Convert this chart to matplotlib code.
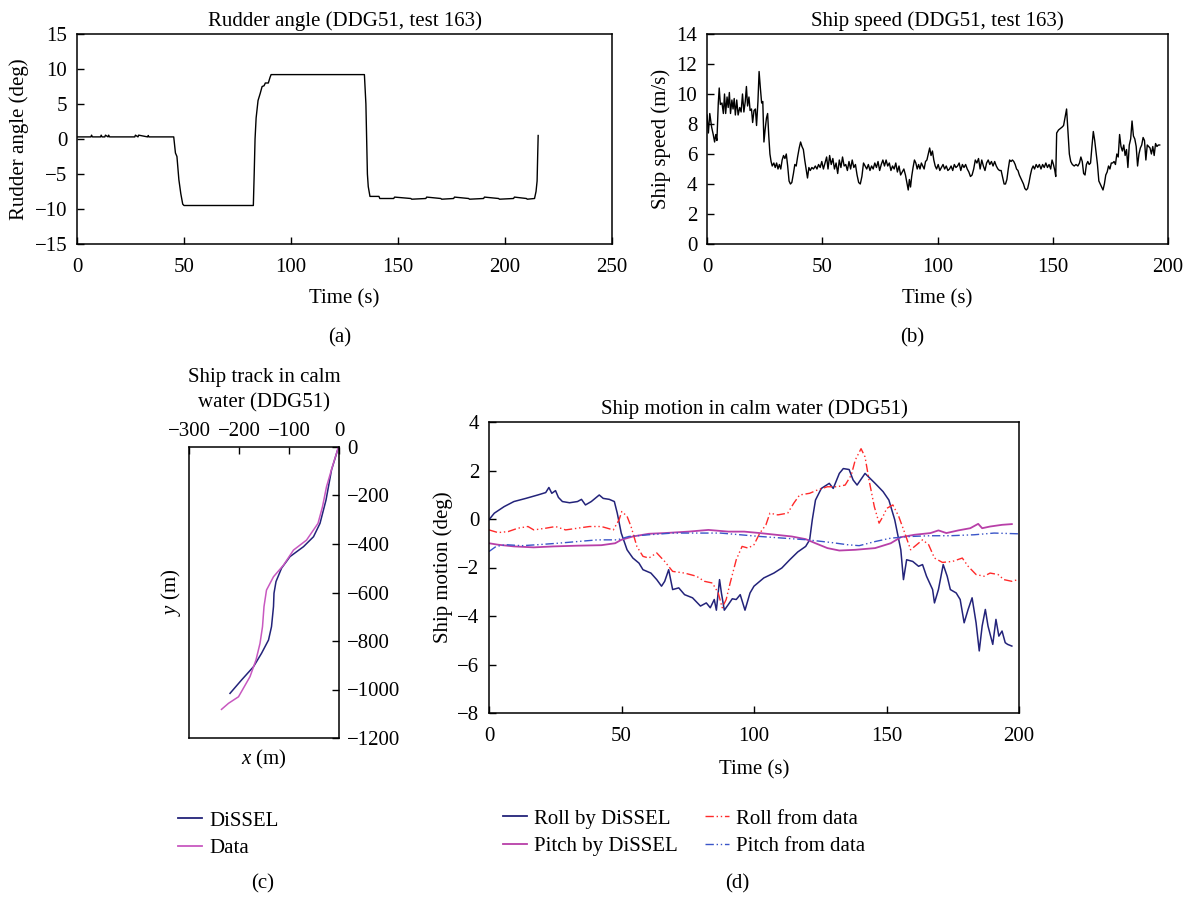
import matplotlib
matplotlib.use("Agg")
import matplotlib.pyplot as plt
from matplotlib.lines import Line2D

plt.rcParams['font.family'] = ['Liberation Serif', 'DejaVu Serif']
plt.rcParams['font.size'] = 15
plt.rcParams['mathtext.fontset'] = 'custom'
plt.rcParams['mathtext.it'] = 'Liberation Serif:italic'
plt.rcParams['mathtext.rm'] = 'Liberation Serif'

W, H = 1192, 898
FS = 15

# ---- (a) rudder angle ----
rudder_t = [0, 6.5, 6.8, 7.2, 11, 11.3, 11.7, 13, 13.3, 14.5, 14.8, 15.2, 27, 27.3, 28.5, 28.8,
            33, 33.3, 33.6, 45.2, 46, 46.7, 47.6, 48.5, 49.4, 50, 82.4, 82.8, 83.2, 83.7, 84.6,
            85.6, 86.5, 87.4, 88, 89.4, 90.2, 90.7, 134.3, 135, 135.7, 136.1, 136.9, 141.1,
            141.5, 148, 148.4, 156, 156.4, 163, 163.4, 170, 170.4, 176, 176.4, 183, 183.4, 190,
            190.4, 197, 197.4, 204, 204.4, 210, 210.4, 213.8, 214.5, 215.0, 215.3, 215.5]
rudder_deg = [0.3, 0.3, 0.55, 0.3, 0.3, 0.55, 0.3, 0.3, 0.55, 0.3, 0.55, 0.3, 0.3, 0.55, 0.3, 0.55,
              0.3, 0.5, 0.3, 0.3, -2.0, -2.5, -5.8, -7.8, -9.3, -9.5, -9.5, -5.0, 0.0, 3.0, 5.5,
              6.5, 7.5, 7.6, 8.0, 8.0, 8.8, 9.2, 9.2, 5.0, -5.0, -6.8, -8.2, -8.2,
              -8.5, -8.5, -8.3, -8.5, -8.6, -8.5, -8.3, -8.5, -8.6, -8.5, -8.3, -8.5, -8.6, -8.5,
              -8.3, -8.5, -8.6, -8.5, -8.3, -8.5, -8.6, -8.5, -7.5, -6.0, -2.0, 0.5]

# ---- (b) ship speed ----
speed_t = [0, 0.6, 1.2, 2, 2.7, 3.3, 3.8, 4.3, 4.9, 5.3, 5.8, 6.5, 7.1, 7.6, 8.1, 8.7, 9.2, 9.7,
           10.2, 10.8, 11.3, 11.8, 12.3, 12.9, 13.5, 14.2, 14.8, 15.4, 16.0, 16.6, 17.1, 17.6,
           18.2, 18.7, 19.3, 19.8, 20.4, 21.0, 21.5, 22.1, 22.6, 23.1, 23.7, 24.2, 24.7, 25.2,
           25.8, 26.3, 26.8, 27.3, 27.8, 28.3, 29.0, 29.6, 30.2, 30.8, 31.4, 32.0, 32.6, 33.2,
           33.8, 34.4, 35.0, 35.6, 36.2, 36.8, 37.5, 38.1, 38.7, 39.3, 40.0, 40.6, 41.2, 41.8,
           42.4, 43.0, 43.6, 44.2, 44.8, 45.5, 46.2, 47.0, 47.7, 48.4, 49.1, 49.8, 50.5, 51.2,
           51.9, 52.5, 53.2, 53.9, 54.6, 55.3, 56.0, 56.7, 57.4, 58.1, 58.8, 59.5, 60.2, 60.9,
           61.6, 62.3, 63.0, 63.7, 64.4, 65.1, 65.8, 66.5, 67.2, 67.9, 68.6, 69.3, 70.0, 70.7,
           71.4, 72.1, 72.8, 73.5, 74.2, 74.9, 75.6, 76.3, 77.0, 77.7, 78.4, 79.1, 79.8, 80.5,
           81.2, 81.9, 82.6, 83.3, 84.0, 84.7, 85.4, 86.1, 86.8, 87.3, 87.8, 88.3, 88.8, 89.4,
           90.0, 90.6, 91.2, 91.8, 92.4, 93.0, 93.6, 94.2, 94.8, 95.4, 96.0, 96.6, 97.2, 97.8,
           98.4, 99.0, 99.6, 100.3, 101.0, 101.7, 102.4, 103.1, 103.8, 104.5, 105.2, 105.9,
           106.6, 107.3, 108.0, 108.7, 109.4, 110.1, 110.8, 111.5, 112.2, 112.9, 113.6, 114.3,
           115.0, 115.7, 116.4, 117.1, 117.8, 118.5, 119.2, 119.9, 120.6, 121.3, 122.0, 122.7,
           123.4, 124.1, 124.8, 125.5, 126.2, 126.9, 127.6, 128.3, 128.9, 129.5, 130.1, 130.7,
           131.3, 131.9, 132.5, 133.1, 133.7, 134.3, 134.9, 135.5, 136.1, 136.7, 137.3, 137.9,
           138.5, 139.1, 139.7, 140.3, 140.9, 141.5, 142.1, 142.8, 143.5, 144.2, 144.9, 145.6,
           146.3, 147.0, 147.7, 148.4, 149.1, 149.7, 150.3, 150.9, 151.3, 151.7, 152.5, 153.3,
           154.1, 154.7, 155.4, 156.0, 156.6, 157.2, 157.8, 158.5, 159.3, 160.1, 160.9, 161.6,
           162.2, 162.8, 163.4, 164.0, 164.6, 165.2, 165.8, 166.4, 167.0, 167.6, 168.2, 168.8,
           169.4, 170.0, 170.6, 171.2, 171.8, 172.4, 173.0, 173.6, 174.2, 174.8, 175.4, 176.0,
           176.6, 177.2, 177.8, 178.4, 179.0, 179.6, 180.2, 180.8, 181.4, 182.0, 182.6, 183.2,
           183.8, 184.4, 185.0, 185.6, 186.2, 186.8, 187.4, 188.0, 188.6, 189.2, 189.8, 190.4,
           191.0, 191.6, 192.2, 192.8, 193.4, 194.0, 194.6, 195.2, 195.8, 196.4]
speed_ms = [8.6, 7.4, 8.7, 7.8, 7.3, 6.8, 7.3, 6.9, 9.4, 10.4, 9.3, 9.4, 8.7, 10.0, 8.7, 9.8, 9.1,
            10.1, 8.7, 9.6, 9.0, 9.7, 8.6, 9.6, 8.6, 9.1, 8.8, 10.0, 8.8, 9.5, 10.5, 9.2, 9.8, 8.9,
            9.0, 8.1, 8.9, 9.0, 7.9, 9.5, 11.5, 10.5, 9.4, 9.5, 6.8, 7.6, 8.4, 8.7, 7.2, 6.0, 5.5,
            5.2, 5.4, 5.1, 5.4, 5.0, 5.3, 5.0, 5.6, 5.9, 5.7, 6.0, 5.2, 4.2, 4.0, 4.1, 4.7, 5.3,
            5.2, 5.8, 6.4, 6.8, 6.5, 6.3, 5.6, 5.0, 4.4, 5.1, 4.9, 5.1, 5.0, 5.2, 5.0, 5.3, 5.1,
            5.5, 5.0, 5.4, 5.8, 5.0, 5.9, 5.3, 5.7, 5.0, 5.4, 4.7, 5.6, 5.1, 5.8, 5.2, 5.3, 4.9,
            5.5, 5.0, 5.6, 5.1, 5.3, 4.6, 4.1, 4.0, 4.5, 5.4, 5.2, 5.0, 5.3, 4.9, 5.2, 5.0, 5.4,
            5.1, 5.5, 4.9, 5.3, 5.6, 5.2, 5.6, 5.2, 5.4, 4.9, 5.2, 5.0, 5.4, 4.8, 5.2, 4.6, 4.8,
            5.0, 4.6, 4.0, 3.6, 4.3, 3.8, 4.5, 5.1, 5.6, 5.4, 5.0, 5.3, 5.0, 5.4, 5.2, 5.0, 5.5,
            5.6, 6.0, 6.4, 5.9, 6.2, 5.6, 5.2, 5.0, 5.3, 4.9, 5.1, 5.3, 5.0, 5.2, 4.9, 5.0, 5.2,
            4.9, 5.3, 5.1, 5.2, 5.4, 4.9, 5.3, 5.1, 5.3, 5.0, 4.8, 4.5, 4.6, 5.0, 5.6, 5.4, 5.7,
            5.0, 5.6, 5.2, 4.9, 5.4, 5.6, 5.3, 5.5, 5.2, 5.5, 5.2, 5.0, 4.9, 4.9, 4.4, 4.0, 4.0,
            4.3, 5.0, 5.6, 5.5, 5.6, 5.5, 5.3, 5.0, 4.9, 4.6, 4.4, 4.2, 4.0, 3.7, 3.6, 3.7, 4.1,
            4.6, 5.0, 5.2, 5.0, 5.3, 5.1, 5.3, 5.0, 5.3, 5.1, 5.4, 5.1, 5.3, 5.0, 5.6, 5.3, 4.9,
            4.5, 7.4, 7.6, 7.7, 7.8, 7.9, 8.5, 9.0, 7.5, 6.0, 5.5, 5.3, 5.2, 5.3, 5.2, 5.4, 5.8,
            5.5, 4.7, 4.6, 5.3, 5.5, 5.3, 5.4, 6.5, 7.5, 6.9, 6.1, 5.3, 4.2, 4.0, 3.8, 3.6, 4.0,
            4.6, 4.8, 5.2, 5.0, 5.4, 5.4, 5.5, 5.3, 6.0, 5.8, 7.3, 6.5, 6.2, 6.6, 5.9, 6.3, 5.1,
            6.6, 7.0, 8.2, 7.2, 7.0, 6.5, 5.2, 6.0, 6.4, 6.6, 7.1, 6.9, 5.6, 6.6, 6.5, 6.4, 6.0,
            6.5, 5.9, 6.7, 6.5, 6.6, 6.6]

# ---- (c) ship track ----
track_sim_x = [-1, -15, -26, -38, -51, -71, -98, -115, -126, -130, -131, -135, -141, -155, -171,
               -195, -218]
track_sim_y = [0, -95, -219, -315, -370, -411, -452, -500, -555, -603, -658, -741, -796, -851,
               -906, -961, -1016]
track_data_x = [-1, -13, -25, -33, -42, -65, -91, -111, -131, -145, -150, -153, -158, -166, -178,
                -201, -221, -235]
track_data_y = [0, -79, -164, -246, -315, -384, -425, -487, -535, -590, -658, -741, -810, -878,
                -947, -1030, -1057, -1082]

# ---- (d) ship motion ----
roll_sim_t = [0, 2, 5.7, 9.4, 13.9, 18.4, 21.4, 22.6, 23.7, 25.1, 26.2, 27.7, 30.4, 33.4, 34.9,
              36.4, 38.6, 41.6, 43.1, 45.4, 47.3, 48.4, 49.9, 52.1, 54.3, 56.6, 58.1, 61.1, 63.3,
              65.1, 66.3, 67.8, 69.3, 71.6, 73.8, 76.8, 79.8, 82.0, 83.5, 85.0, 85.8, 87.0, 87.7,
              88.8, 90.3, 91.8, 93.3, 94.8, 96.6, 98.5, 100, 103.7, 107.5, 110.5, 113.5, 116.5,
              119.5, 121.0, 122.0, 123.2, 125.4, 128.4, 129.9, 132.2, 133.7, 135.9, 137.4, 138.9,
              141.9, 145.7, 148.7, 150.9, 153.1, 155.4, 156.4, 157.6, 159.9, 162.1, 163.6, 165.1,
              167.4, 168.1, 169.6, 171.4, 172.9, 174.1, 176.3, 177.8, 179.3, 180.8, 182.3, 183.8,
              185.0, 186.1, 187.3, 188.3, 190.1, 191.3, 192.4, 193.6, 194.8, 195.7, 197.3]
roll_sim = [-0.03, 0.24, 0.51, 0.72, 0.85, 0.99, 1.09, 1.30, 1.06, 1.17, 0.89, 0.72, 0.67, 0.72,
            0.81, 0.58, 0.72, 0.99, 0.85, 0.81, 0.72, 0.24, -0.58, -1.27, -1.61, -1.82, -2.09,
            -2.23, -2.50, -2.77, -2.57, -2.09, -2.91, -2.84, -3.12, -3.25, -3.59, -3.46, -3.66,
            -3.32, -3.76, -2.50, -3.05, -3.76, -3.53, -3.29, -3.32, -3.12, -3.76, -3.05, -2.77,
            -2.43, -2.23, -2.02, -1.68, -1.36, -1.13, -0.86, -0.03, 0.78, 1.26, 1.47, 1.26, 1.88,
            2.08, 2.04, 1.61, 1.40, 1.88, 1.47, 1.13, 0.78, -0.03, -1.27, -2.50, -1.68, -1.75,
            -1.95, -1.88, -2.36, -2.91, -3.46, -2.91, -1.88, -2.36, -2.91, -3.05, -3.32, -4.28,
            -3.73, -3.25, -4.28, -5.44, -4.41, -3.73, -4.41, -5.17, -4.14, -4.83, -4.62, -5.10,
            -5.17, -5.24]
roll_data_t = [0, 3.4, 7.2, 10.9, 14.7, 16.9, 21.4, 25.1, 28.9, 33.4, 37.9, 42.4, 46.9, 49.1,
               50.1, 52.1, 53.6, 55.8, 58.1, 60.3, 63.3, 66.3, 69.3, 73.8, 78.3, 81.3, 84.3,
               86.5, 88.0, 89.5, 91.0, 93.3, 95.5, 97.8, 100, 102.2, 104.5, 106, 109, 112.7,
               115.0, 117.2, 121.0, 124.0, 127.7, 131.4, 134.4, 136.7, 138.2, 140.4, 141.9,
               143.4, 145.4, 147.2, 148.7, 150.1, 152.4, 154.6, 156.9, 159.1, 161.4, 163.6,
               165.9, 168.1, 171.1, 174.9, 178.6, 180.8, 183.8, 186.8, 189.1, 192.1, 194.3,
               197.3, 199.6]
roll_data = [-0.45, -0.56, -0.52, -0.38, -0.31, -0.45, -0.38, -0.31, -0.45, -0.38, -0.31, -0.31,
             -0.45, -0.03, 0.31, 0.11, -0.31, -1.13, -1.54, -1.61, -1.40, -1.75, -2.16, -2.23,
             -2.36, -2.57, -2.64, -3.05, -3.66, -3.32, -2.64, -1.68, -1.13, -1.20, -1.06, -0.58,
             -0.24, 0.24, 0.17, 0.24, 0.65, 0.99, 1.06, 1.20, 1.33, 1.33, 1.40, 1.81, 2.43, 2.90,
             2.56, 1.61, 0.51, -0.17, 0.11, 0.44, 0.58, 0.11, -0.58, -1.27, -1.06, -0.86, -1.06,
             -1.61, -1.79, -1.75, -1.61, -1.95, -2.29, -2.36, -2.23, -2.29, -2.50, -2.57, -2.50]
pitch_sim_t = [0, 3.4, 9.4, 16.9, 24.4, 33.4, 42.4, 47.6, 49.9, 54.3, 60.3, 66.3, 75.3, 82.8,
               90.3, 96.3, 102.2, 108.2, 114.2, 119.5, 123.2, 127.7, 132.2, 138.2, 145.7, 151.6,
               155.4, 160.6, 166.6, 169.6, 172.6, 177.1, 181.6, 184.6, 186.1, 189.1, 193.6, 197.3]
pitch_sim = [-1.0, -1.06, -1.13, -1.17, -1.13, -1.10, -1.08, -1.0, -0.86, -0.72, -0.61, -0.58,
             -0.52, -0.45, -0.52, -0.52, -0.58, -0.65, -0.72, -0.83, -1.0, -1.20, -1.30, -1.27,
             -1.20, -1.0, -0.75, -0.65, -0.58, -0.47, -0.58, -0.47, -0.38, -0.20, -0.38, -0.31,
             -0.24, -0.21]
pitch_data_t = [0, 2.7, 6.4, 12.4, 18.4, 25.9, 33.4, 40.9, 48.4, 52.8, 60.3, 69.3, 78.3, 87.3,
                94.8, 102.2, 111.2, 120.2, 129.2, 135.2, 139.7, 145.7, 151.6, 159.1, 166.6, 174.1,
                183.1, 190.6, 199.6]
pitch_data = [-1.34, -1.13, -1.06, -1.10, -1.06, -1.0, -0.93, -0.86, -0.86, -0.72, -0.65, -0.58,
              -0.58, -0.58, -0.65, -0.72, -0.79, -0.86, -0.97, -1.06, -1.10, -0.93, -0.79, -0.72,
              -0.69, -0.69, -0.65, -0.58, -0.61]

NAVY = '#23237a'
MAGENTA = '#c858c0'
PITCH_MAG = '#b83fa8'
RED = '#ff2a2a'
BLUE = '#3a55c8'
DDOT = (0, (6, 2, 1, 2, 1, 2))


def box(l, r, t, b):
    return [l / W, 1 - b / H, (r - l) / W, (b - t) / H]


def style(ax, xpad=9, ypad=7):
    ax.tick_params(direction='in', length=5, width=1, labelsize=FS)
    ax.tick_params(axis='x', pad=xpad)
    ax.tick_params(axis='y', pad=ypad)
    for s in ax.spines.values():
        s.set_linewidth(1.1)


fig = plt.figure(figsize=(W / 100, H / 100), dpi=100)

# (a)
ax = fig.add_axes(box(77, 612, 34, 244))
ax.plot(rudder_t, rudder_deg, color='black', lw=1.0)
ax.set_xlim(0, 250)
ax.set_ylim(-15, 15)
ax.set_xticks([0, 50, 100, 150, 200, 250])
ax.set_yticks([-15, -10, -5, 0, 5, 10, 15])
style(ax, xpad=10)
ax.set_title("Rudder angle (DDG51, test 163)", fontsize=FS, pad=6)
ax.set_xlabel("Time (s)", fontsize=FS, labelpad=9)
ax.set_ylabel("Rudder angle (deg)", fontsize=FS, labelpad=4)

# (b)
ax = fig.add_axes(box(707, 1168, 34, 244))
ax.plot(speed_t, speed_ms, color='black', lw=1.0)
ax.set_xlim(0, 200)
ax.set_ylim(0, 14)
ax.set_xticks([0, 50, 100, 150, 200])
ax.set_yticks([0, 2, 4, 6, 8, 10, 12, 14])
style(ax, xpad=10)
ax.set_title("Ship speed (DDG51, test 163)", fontsize=FS, pad=6)
ax.set_xlabel("Time (s)", fontsize=FS, labelpad=9)
ax.set_ylabel("Ship speed (m/s)", fontsize=FS, labelpad=4)

# (c)
ax = fig.add_axes(box(189, 339, 447, 738))
ax.plot(track_sim_x, track_sim_y, color=NAVY, lw=1.1)
ax.plot(track_data_x, track_data_y, color=MAGENTA, lw=1.1)
ax.set_xlim(-300, 0)
ax.set_ylim(-1200, 0)
ax.set_xticks([-300, -200, -100, 0])
ax.set_yticks([-1200, -1000, -800, -600, -400, -200, 0])
ax.xaxis.tick_top()
ax.yaxis.tick_right()
style(ax, xpad=4, ypad=6)
ax.set_xlabel("$x$ (m)", fontsize=FS, labelpad=7)
ax.xaxis.set_label_position('bottom')
ax.set_ylabel("$y$ (m)", fontsize=FS, labelpad=4)
ax.yaxis.set_label_position('left')
fig.text(264 / W, 1 - 390 / H, "Ship track in calm\nwater (DDG51)", ha='center', va='center',
         fontsize=FS, linespacing=1.45)

# (d)
ax = fig.add_axes(box(489, 1019, 422, 713))
ax.plot(roll_sim_t, roll_sim, color=NAVY, lw=1.1)
ax.plot(pitch_sim_t, pitch_sim, color=PITCH_MAG, lw=1.3)
ax.plot(roll_data_t, roll_data, color=RED, lw=1.0, linestyle=DDOT)
ax.plot(pitch_data_t, pitch_data, color=BLUE, lw=1.0, linestyle=DDOT)
ax.set_xlim(0, 200)
ax.set_ylim(-8, 4)
ax.set_xticks([0, 50, 100, 150, 200])
ax.set_yticks([-8, -6, -4, -2, 0, 2, 4])
style(ax, xpad=10)
ax.set_title("Ship motion in calm water (DDG51)", fontsize=FS, pad=6)
ax.set_xlabel("Time (s)", fontsize=FS, labelpad=10)
ax.set_ylabel("Ship motion (deg)", fontsize=FS, labelpad=3)

# legends
leg_kw = dict(frameon=False, loc='upper left', borderpad=0, borderaxespad=0,
              handlelength=1.15, handletextpad=0.35, labelspacing=0.38, fontsize=FS)
fig.legend([Line2D([], [], color=NAVY, lw=1.3), Line2D([], [], color=MAGENTA, lw=1.3)],
           ["DiSSEL", "Data"], bbox_to_anchor=(178 / W, 1 - 811 / H), **leg_kw)
fig.legend([Line2D([], [], color=NAVY, lw=1.3), Line2D([], [], color=PITCH_MAG, lw=1.3)],
           ["Roll by DiSSEL", "Pitch by DiSSEL"], bbox_to_anchor=(503 / W, 1 - 809 / H), **leg_kw)
fig.legend([Line2D([], [], color=RED, lw=1.0, linestyle=DDOT),
            Line2D([], [], color=BLUE, lw=1.0, linestyle=DDOT)],
           ["Roll from data", "Pitch from data"], bbox_to_anchor=(705 / W, 1 - 809 / H), **leg_kw)

for lbl, x, y in [("(a)", 340, 338), ("(b)", 912, 338), ("(c)", 263, 884), ("(d)", 737, 884)]:
    fig.text(x / W, 1 - y / H, lbl, ha='center', va='center', fontsize=FS)

fig.savefig("out.png", dpi=100)
